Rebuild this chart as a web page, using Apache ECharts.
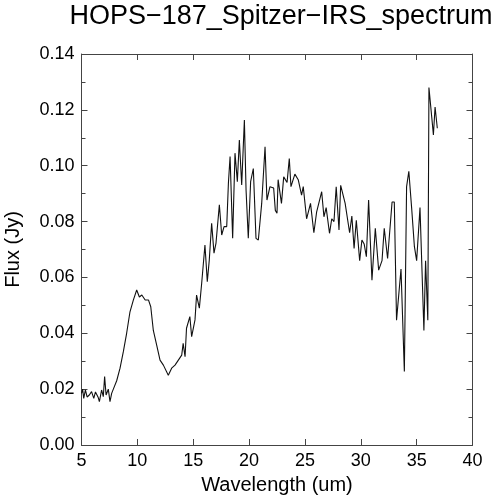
<!DOCTYPE html>
<html>
<head>
<meta charset="utf-8">
<script src="https://cdn.jsdelivr.net/npm/echarts@6/dist/echarts.min.js"></script>
<style>
	html, body { margin: 0; padding: 0; background: #fff; }
	#chart { width: 492px; height: 500px; }
</style>
</head>
<body>
<div id="chart"></div>
<script>
var titleText = 'HOPS\u2212187_Spitzer\u2212IRS_spectrum';

// wavelength (um)
var wavelength = [
	5.0, 5.1, 5.2, 5.35, 5.5, 5.7, 5.9, 6.1, 6.25, 6.36, 6.5, 6.6, 6.8, 6.95, 7.07, 7.2, 7.4, 7.55, 7.7, 7.85,
	8.15, 8.45, 8.75, 9.04, 9.34, 9.64, 9.94, 10.18, 10.4, 10.7, 11.0, 11.2, 11.43, 11.73, 12.03, 12.33, 12.77,
	13.07, 13.37, 13.67, 13.82, 13.97, 14.1, 14.27, 14.4, 14.7, 14.86, 15.16, 15.3, 15.55, 15.76, 16.05, 16.26,
	16.44, 16.65, 16.86, 17.04, 17.34, 17.55, 17.76, 18.0, 18.15, 18.3, 18.53, 18.74, 18.95, 19.13, 19.34, 19.58,
	19.73, 19.93, 20.14, 20.38, 20.62, 20.83, 21.13, 21.43, 21.6, 21.87, 22.2, 22.35, 22.5, 22.6, 22.9, 23.1,
	23.4, 23.6, 23.75, 24.1, 24.4, 24.7, 24.85, 25.15, 25.5, 25.8, 26.05, 26.5, 26.7, 26.9, 27.2, 27.4, 27.6,
	27.8, 28.05, 28.2, 28.6, 29.0, 29.2, 29.4, 29.6, 29.9, 30.1, 30.3, 30.5, 30.7, 31.0, 31.3, 31.6, 31.9, 32.1,
	32.4, 32.8, 33.0, 33.2, 33.6, 33.9, 34.1, 34.3, 34.55, 34.8, 35.0, 35.3, 35.65, 35.8, 36.0, 36.1, 36.35,
	36.5, 36.65, 36.85
];

// flux (Jy)
var flux = [
	0.0185, 0.0200, 0.0167, 0.0197, 0.0172, 0.0179, 0.0191, 0.0167, 0.0190, 0.0185, 0.0170, 0.0155, 0.0197, 0.0173, 0.0245, 0.0179, 0.0200, 0.0155, 0.0185, 0.0200,
	0.0230, 0.0275, 0.0335, 0.0400, 0.0477, 0.0519, 0.0555, 0.0530, 0.0537, 0.0519, 0.0519, 0.0495, 0.0410, 0.0358, 0.0304, 0.0286, 0.0250,
	0.0275, 0.0286, 0.0304, 0.0304, 0.0322, 0.0364, 0.0316, 0.0418, 0.0460, 0.0388, 0.0448, 0.0537, 0.0490, 0.0580, 0.0716, 0.0585,
	0.0663, 0.0794, 0.0687, 0.0723, 0.0860, 0.0752, 0.0782, 0.0782, 0.0937, 0.1033, 0.0740, 0.1045, 0.0943, 0.1092, 0.0931, 0.1164,
	0.0913, 0.0740, 0.0943, 0.0990, 0.0740, 0.0734, 0.0865, 0.1068, 0.0877, 0.0925, 0.0920, 0.0840, 0.0830, 0.0950, 0.0865, 0.0960,
	0.0940, 0.1026, 0.0925, 0.0970, 0.0950, 0.0895, 0.0925, 0.0810, 0.0865, 0.0760, 0.0835, 0.0907, 0.0817, 0.0850, 0.0758, 0.0810, 0.0800,
	0.0925, 0.0770, 0.0930, 0.0865, 0.0760, 0.0820, 0.0704, 0.0805, 0.0660, 0.0734, 0.0720, 0.0674, 0.0877, 0.0590, 0.0776, 0.0626, 0.0660, 0.0776,
	0.0668, 0.0870, 0.0870, 0.0447, 0.0630, 0.0263, 0.0925, 0.0980, 0.0850, 0.0710, 0.0660, 0.0850, 0.0410, 0.0660, 0.0447, 0.1280, 0.1175,
	0.1110, 0.1210, 0.1134
];

var xMin = 5, xMax = 40, xStep = 5;
var yMin = 0, yMax = 0.14, yStep = 0.02;

var seriesData = [];
for (var i = 0; i < wavelength.length; i++) {
	seriesData.push([wavelength[i], flux[i]]);
}

var fontName = '"Liberation Sans", Arial, Helvetica, sans-serif';
var frameColor = '#444';

// 公共坐标轴样式
var axisBase = function (extra) {
	var axis = {
		type: 'value',
		axisLine: { show: true, onZero: false, lineStyle: { color: frameColor, width: 1 } },
		axisTick: { show: true, inside: true, length: 6, lineStyle: { color: frameColor } },
		splitLine: { show: false },
		axisLabel: { show: false }
	};
	for (var k in extra) {
		axis[k] = extra[k];
	}
	return axis;
};

var chart = echarts.init(document.getElementById('chart'), null, { renderer: 'canvas' });
chart.setOption({
	animation: false,
	backgroundColor: '#fff',
	title: {
		text: titleText,
		left: 276,
		textAlign: 'center',
		top: -2,
		textStyle: { fontFamily: fontName, fontSize: 27, fontWeight: 'normal', color: '#000' }
	},
	grid: { left: 81.5, right: 19.5, top: 54, bottom: 55, outerBoundsMode: 'none', containLabel: false },
	xAxis: [
		axisBase({
			position: 'bottom',
			min: xMin, max: xMax, interval: xStep,
			name: 'Wavelength (um)',
			nameLocation: 'middle',
			nameGap: 30,
			nameTextStyle: { fontFamily: fontName, fontSize: 20, color: '#000' },
			axisLabel: { show: true, margin: 7, fontFamily: fontName, fontSize: 18, color: '#000' }
		}),
		axisBase({ position: 'top', min: xMin, max: xMax, interval: xStep })
	],
	yAxis: [
		axisBase({
			position: 'left',
			min: yMin, max: yMax, interval: yStep,
			name: 'Flux (Jy)',
			nameLocation: 'middle',
			nameGap: 58,
			nameTextStyle: { fontFamily: fontName, fontSize: 20, color: '#000' },
			minorTick: { show: true, splitNumber: 2, length: 4, lineStyle: { color: frameColor } },
			axisLabel: {
				show: true, margin: 7, fontFamily: fontName, fontSize: 18, color: '#000',
				formatter: function (v) { return v.toFixed(2); }
			}
		}),
		axisBase({
			position: 'right',
			min: yMin, max: yMax, interval: yStep,
			minorTick: { show: true, splitNumber: 2, length: 4, lineStyle: { color: frameColor } }
		})
	],
	series: [
		{
			type: 'line',
			data: seriesData,
			xAxisIndex: 0,
			yAxisIndex: 0,
			showSymbol: false,
			lineStyle: { color: '#111', width: 1.1 }
		}
	]
});
</script>
</body>
</html>
